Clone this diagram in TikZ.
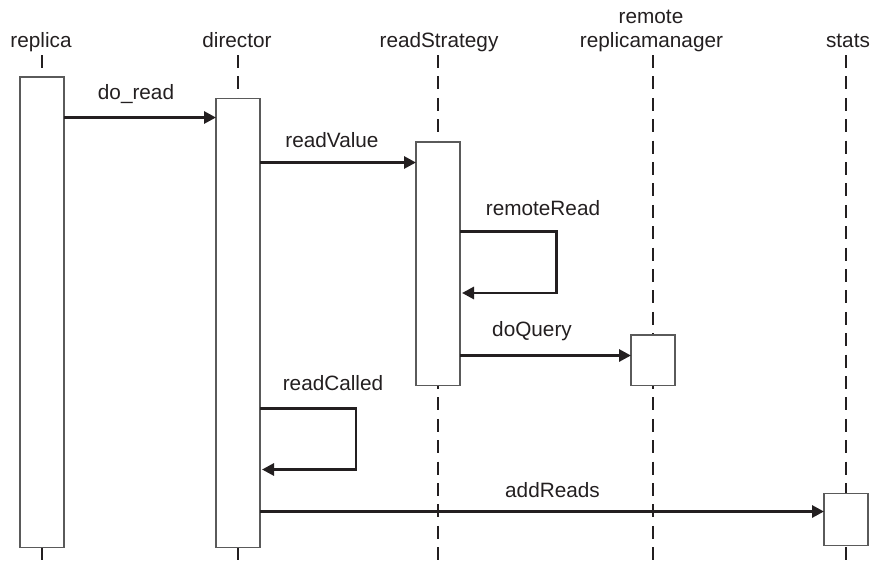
\documentclass[tikz,border=0pt]{standalone}
\usepackage{fontspec}
\setmainfont{Liberation Sans}
\usetikzlibrary{arrows.meta}
\definecolor{ink}{HTML}{231F20}
\definecolor{boxline}{HTML}{5A5A5A}
\begin{document}
\begin{tikzpicture}[x=1pt,y=-1pt,
  lbl/.style={font=\fontsize{20.75}{24}\selectfont, text=ink, inner sep=0pt, anchor=base},
  lifeline/.style={draw=ink, line width=2.5pt, dash pattern=on 13pt off 8.4pt},
  actbox/.style={draw=boxline, fill=white, line width=1.3pt, minimum width=44pt, inner sep=0pt, outer sep=0pt},
  msg/.style={draw=ink, line width=2.9pt, line join=miter, -{Triangle[length=12pt,width=12pt]}}]
\useasboundingbox (0,0) rectangle (872,562);

% headers
\node[lbl] (hrep) at (41,47) {replica};
\node[lbl] (hdir) at (237,47) {director};
\node[lbl] (hrs)  at (439,47) {readStrategy};
\node[lbl] (hrm1) at (651,23.5) {remote};
\node[lbl] (hrm2) at (651.5,47) {replicamanager};
\node[lbl] (hst)  at (848,47) {stats};

% lifelines
\foreach \n/\x in {rep/42, dir/238, rs/438, rm/653, st/846}{
  \coordinate (\n top) at (\x,55);
  \coordinate (\n bot) at (\x,562);
  \draw[lifeline] (\n top) -- (\n bot);
}

% activation boxes
\node[actbox, minimum height=470.5pt] (repbox) at (42,312.25) {};
\node[actbox, minimum height=449pt]   (dirbox) at (238,323) {};
\node[actbox, minimum height=243.5pt] (rsbox)  at (438,263.75) {};
\node[actbox, minimum height=50.5pt]  (rmbox)  at (653,360.25) {};
\node[actbox, minimum height=52.4pt]  (stbox)  at (846,519.5) {};

% message levels
\coordinate (y1) at (0,117.5);
\coordinate (y2) at (0,162.5);
\coordinate (y3) at (0,231.7);
\coordinate (y4) at (0,293);
\coordinate (y5) at (0,355.5);
\coordinate (y6) at (0,408.5);
\coordinate (y7) at (0,469.5);
\coordinate (y8) at (0,511.5);
\coordinate (loopA) at (556.5,0);
\coordinate (loopB) at (356,0);

% messages
\draw[msg] (repbox.east |- y1) -- (dirbox.west |- y1);
\draw[msg] (dirbox.east |- y2) -- (rsbox.west |- y2);
\draw[msg] (rsbox.east |- y3) -- (loopA |- y3) -- (loopA |- y4) -- ([xshift=2pt]rsbox.east |- y4);
\draw[msg] (rsbox.east |- y5) -- (rmbox.west |- y5);
\draw[msg] (dirbox.east |- y6) -- (loopB |- y6) -- (loopB |- y7) -- ([xshift=2pt]dirbox.east |- y7);
\draw[msg] (dirbox.east |- y8) -- (stbox.west |- y8);

% message labels
\node[lbl] (ldoread) at (136,99.5) {do\_read};
\node[lbl] (lrv) at (332,147) {readValue};
\node[lbl] (lrr) at (543,215.5) {remoteRead};
\node[lbl] (ldq) at (532,336) {doQuery};
\node[lbl] (lrc) at (333,390) {readCalled};
\node[lbl] (lar) at (552.5,497) {addReads};
\end{tikzpicture}
\end{document}
